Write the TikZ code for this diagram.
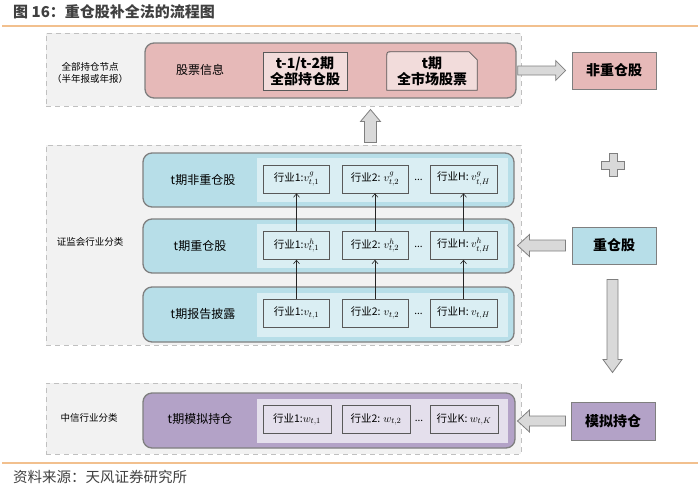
\documentclass[tikz,border=0pt]{standalone}
\usepackage{fontspec}
\setmainfont{Noto Sans CJK SC}
\usetikzlibrary{calc,arrows.meta}
\DeclareMathSizes{10.5}{11}{8}{6}
\definecolor{grpfill}{HTML}{F2F2F2}
\definecolor{grpline}{HTML}{C0C0C0}
\definecolor{bord}{HTML}{7F7F7F}
\definecolor{dbord}{HTML}{595959}
\definecolor{pinkc}{HTML}{E6B9B8}
\definecolor{lpinkc}{HTML}{F2DCDB}
\definecolor{bluec}{HTML}{B7DEE8}
\definecolor{lbluec}{HTML}{DAEEF3}
\definecolor{purc}{HTML}{B3A2C7}
\definecolor{lpurc}{HTML}{E4DFEC}
\definecolor{arrfill}{HTML}{D9D9D9}
\definecolor{orangel}{HTML}{F2C08E}
\definecolor{titlec}{HTML}{404040}
\tikzset{
  grp/.style={draw=grpline, dashed, dash pattern=on 5pt off 4pt, line width=1pt, fill=grpfill, inner sep=0pt},
  bigbox/.style={draw=bord, line width=1.3pt, rounded corners=9pt, inner sep=0pt, minimum width=371pt, minimum height=54pt},
  inner/.style={fill=#1, inner sep=0pt, minimum width=251pt, minimum height=44pt},
  sbox/.style={draw=dbord, line width=0.7pt, fill=#1, inner sep=0pt, minimum width=66pt, minimum height=28pt, font=\fontsize{10.5}{12}\selectfont},
  rbox/.style={draw=bord, line width=1pt, fill=#1, inner sep=0pt, minimum width=84pt, minimum height=37pt, font=\bfseries\fontsize{14}{16}\selectfont},
  blabel/.style={font=\fontsize{12}{14}\selectfont, inner sep=0pt},
  glabel/.style={font=\fontsize{9.5}{12}\selectfont, inner sep=0pt, align=center},
  barrow/.style={draw=bord, line width=0.8pt, fill=arrfill, line join=miter},
  sarr/.style={-{Straight Barb[length=3.5pt,width=6pt]}, draw=black!85, line width=0.6pt},
  dots/.style={font=\fontsize{10}{12}\selectfont, inner sep=0pt}
}
\begin{document}
\begin{tikzpicture}[x=1pt,y=-1pt]
\useasboundingbox (0,0) rectangle (700,488);
% title and rules
\node[anchor=west, inner sep=0pt, text=titlec, font=\bfseries\fontsize{15}{17}\selectfont] (title) at (13,12) {图 16：重仓股补全法的流程图};
\coordinate (tl1) at (2,26);
\coordinate (tl2) at (698,26);
\draw[orangel, line width=1.2pt] (tl1) -- (tl2);
\coordinate (bl1) at (2,463);
\coordinate (bl2) at (698,463);
\draw[orangel, line width=1.2pt] (bl1) -- (bl2);
\node[anchor=west, inner sep=0pt, text=titlec, font=\fontsize{14.5}{17}\selectfont] (src) at (13,477) {资料来源：天风证券研究所};

% groups
\node[grp, minimum width=475pt, minimum height=73pt] (grpTop) at (283.5,69.5) {};
\node[grp, minimum width=475pt, minimum height=200pt] (grpMid) at (283.5,245) {};
\node[grp, minimum width=475pt, minimum height=71pt] (grpBot) at (283.5,418.5) {};

\node[glabel] (lblTop) at (90,73) {全部持仓节点\\（半年报或年报）};
\node[glabel] (lblMid) at (90,242) {证监会行业分类};
\node[glabel] (lblBot) at (89,418) {中信行业分类};

% top pink box
\node[bigbox, fill=pinkc, minimum height=55pt] (pink) at (330.5,70.5) {};
\node[blabel] (gpxx) at (200,70) {股票信息};
\node[draw=dbord, line width=0.8pt, fill=lpinkc, inner sep=0pt, minimum width=84pt, minimum height=38pt, align=center, font=\bfseries\fontsize{14}{16}\selectfont] (hold) at (305,71) {t-1/t-2期\\全部持仓股};
\node[inner sep=0pt, minimum width=90pt, minimum height=38pt, align=center, font=\bfseries\fontsize{14}{16}\selectfont] (mkt) at (432,71) {};
\draw[draw=dbord, line width=0.8pt, fill=lpinkc] (mkt.south west) -- ($(mkt.north west)+(0,5)$) .. controls (mkt.north west) .. ($(mkt.north west)+(5,0)$) -- ($(mkt.north east)+(-8,0)$) -- ($(mkt.north east)+(0,8)$) -- (mkt.south east) -- cycle;
\node[inner sep=0pt, align=center, font=\bfseries\fontsize{14}{16}\selectfont] (mkttxt) at (mkt.center) {t期\\全市场股票};

% right boxes
\node[rbox=pinkc] (fzc) at (614,70.5) {非重仓股};
\node[rbox=bluec] (zc) at (614,245.5) {重仓股};
\node[rbox=purc, minimum height=38pt] (mn) at (613,421) {模拟持仓};

% blue rows
\node[bigbox, fill=bluec] (row1) at (328.5,180) {};
\node[bigbox, fill=bluec] (row2) at (328.5,246) {};
\node[bigbox, fill=bluec, minimum height=55pt] (row3) at (328.5,314.5) {};
\node[inner=lbluec] (in1) at (382.5,180) {};
\node[inner=lbluec] (in2) at (382.5,246) {};
\node[inner=lbluec] (in3) at (382.5,314.5) {};
\node[blabel] (l1) at (203,180) {t期非重仓股};
\node[blabel] (l2) at (200,246) {t期重仓股};
\node[blabel] (l3) at (203,314) {t期报告披露};

\node[sbox=lbluec] (r1b1) at (296.5,179) {行业1:$v_{t,1}^{g}$};
\node[sbox=lbluec] (r1b2) at (375,179) {行业2: $v_{t,2}^{g}$};
\node[dots] (r1d) at (418.5,180) {...};
\node[sbox=lbluec, minimum width=67pt] (r1b3) at (463.5,179) {行业H: $v_{t,H}^{g}$};

\node[sbox=lbluec] (r2b1) at (296.5,245.5) {行业1:$v_{t,1}^{h}$};
\node[sbox=lbluec] (r2b2) at (375,245.5) {行业2: $v_{t,2}^{h}$};
\node[dots] (r2d) at (418.5,246.5) {...};
\node[sbox=lbluec, minimum width=67pt] (r2b3) at (463.5,245.5) {行业H: $v_{t,H}^{h}$};

\node[sbox=lbluec] (r3b1) at (296.5,313) {行业1:$v_{t,1}$};
\node[sbox=lbluec] (r3b2) at (375,313) {行业2: $v_{t,2}$};
\node[dots] (r3d) at (418.5,314) {...};
\node[sbox=lbluec, minimum width=67pt] (r3b3) at (463.5,313) {行业H: $v_{t,H}$};

\draw[sarr] (r3b1.north) -- (r2b1.south);
\draw[sarr] (r3b2.north) -- (r2b2.south);
\draw[sarr] (r3b3.north) -- (r2b3.south);
\draw[sarr] (r2b1.north) -- (r1b1.south);
\draw[sarr] (r2b2.north) -- (r1b2.south);
\draw[sarr] (r2b3.north) -- (r1b3.south);

% purple row
\node[bigbox, fill=purc, minimum width=372pt, minimum height=55pt] (prow) at (329,420.5) {};
\node[inner=lpurc] (pin) at (382.5,420.5) {};
\node[blabel] (pl) at (200,419) {t期模拟持仓};
\node[sbox=lpurc, minimum width=68pt] (pb1) at (297,419.5) {行业1:$w_{t,1}$};
\node[sbox=lpurc, minimum width=68pt] (pb2) at (376,419.5) {行业2: $w_{t,2}$};
\node[dots] (pd) at (419,420.5) {...};
\node[sbox=lpurc, minimum width=68pt] (pb3) at (464,419.5) {行业K: $w_{t,K}$};

% block arrows
\draw[barrow] ($(pink.east)+(1,-4.5)$) -- ++(38,0) -- ++(0,-5.5) -- ++(10,10) -- ++(-10,10) -- ++(0,-5.5) -- ++(-38,0) -- cycle;
\draw[barrow] ($(zc.west)+(-6,-5.5)$) -- ++(-36,0) -- ++(0,-5.5) -- ++(-12,11) -- ++(12,11) -- ++(0,-5.5) -- ++(36,0) -- cycle;
\draw[barrow] ($(mn.west)+(-5,-5)$) -- ++(-36,0) -- ++(0,-6) -- ++(-12,11) -- ++(12,11) -- ++(0,-6) -- ++(36,0) -- cycle;
\draw[barrow] ($(grpMid.north west)+(319,-2)$) -- ++(0,-21) -- ++(-4,0) -- ++(10,-12) -- ++(10,12) -- ++(-4,0) -- ++(0,21) -- cycle;
\draw[barrow] ($(zc.south)+(-7,15)$) -- ++(0,80) -- ++(-4,0) -- ++(9.5,13) -- ++(9.5,-13) -- ++(-4,0) -- ++(0,-80) -- cycle;
% plus
\draw[barrow] (609,153.5) -- (617,153.5) -- (617,161) -- (624.5,161) -- (624.5,169) -- (617,169) -- (617,176.5) -- (609,176.5) -- (609,169) -- (601.5,169) -- (601.5,161) -- (609,161) -- cycle;
\end{tikzpicture}
\end{document}
